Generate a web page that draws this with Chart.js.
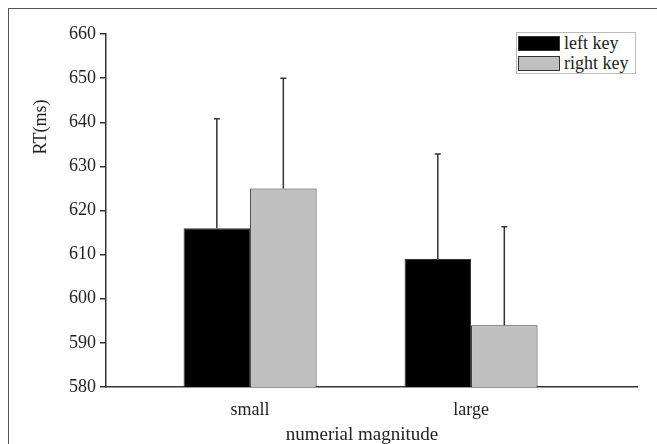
<!DOCTYPE html>
<html>
<head>
<meta charset="utf-8">
<script src="https://cdn.jsdelivr.net/npm/chart.js@4.4.1/dist/chart.umd.min.js"></script>
<style>
  body { margin: 0; background: #fff; }
  #wrap { position: relative; width: 657px; height: 444px; overflow: hidden; }
  #frame { position: absolute; left: 8px; top: 8px; width: 700px; height: 500px;
           border-left: 1.5px solid #555; border-top: 1.5px solid #555; pointer-events: none; }
  #legend { position: absolute; left: 516px; top: 32px; width: 118px; height: 40px; border: 1px solid #bbb;
            background: #fff; font-size: 18px; font-family: "Liberation Serif", "Times New Roman", Times, serif;
            color: #222; line-height: 20px; }
  #legend div { display: flex; align-items: center; height: 20px; padding-left: 1px; }
  #legend span.sw { display: inline-block; width: 40px; height: 13px; border: 1px solid #333; margin-right: 4px; }
</style>
</head>
<body>
<div id="wrap">
  <canvas id="chart" width="657" height="444"></canvas>
  <div id="frame"></div>
  <div id="legend"></div>
</div>
<script>
  // data
  var categories = ["small", "large"];
  var seriesNames = ["left key", "right key"];
  var leftKey = [616, 609];
  var rightKey = [625, 594];
  var leftErr = [24.8, 23.8];
  var rightErr = [25, 22.3];
  var yTicks = [580, 590, 600, 610, 620, 630, 640, 650, 660];

  var fills = ["#000000", "#c0c0c0"];
  var errs = [leftErr, rightErr];
  var serif = "'Liberation Serif', 'Times New Roman', Times, serif";

  function points(vals) {
      return vals.map(function(v, i) { return {x: i + 1, y: v}; });
  }

  // upward error bars with a small cap
  var errorBars = {
      id: "errorBars",
      afterDatasetsDraw: function(chart) {
          var ctx = chart.ctx;
          var y = chart.scales.y;
          ctx.save();
          ctx.strokeStyle = "#333";
          ctx.lineWidth = 1.5;
          chart.data.datasets.forEach(function(ds, di) {
              var meta = chart.getDatasetMeta(di);
              meta.data.forEach(function(bar, i) {
                  var top = y.getPixelForValue(ds.data[i].y + errs[di][i]);
                  ctx.beginPath();
                  ctx.moveTo(bar.x, bar.y);
                  ctx.lineTo(bar.x, top);
                  ctx.moveTo(bar.x - 3, top);
                  ctx.lineTo(bar.x + 3, top);
                  ctx.stroke();
              });
          });
          ctx.restore();
      }
  };

  // axis titles placed as in the figure
  var axisTitles = {
      id: "axisTitles",
      afterDraw: function(chart) {
          var ctx = chart.ctx;
          ctx.save();
          ctx.fillStyle = "#222";
          ctx.textAlign = "center";
          ctx.textBaseline = "middle";
          ctx.font = "19px " + serif;
          ctx.fillText("numerial magnitude", 362, 435);
          ctx.font = "18px " + serif;
          ctx.translate(41, 127);
          ctx.rotate(-Math.PI / 2);
          ctx.fillText("RT(ms)", 0, 0);
          ctx.restore();
      }
  };

  var datasets = seriesNames.map(function(name, k) {
      return {
          label: name,
          data: points(k == 0 ? leftKey : rightKey),
          backgroundColor: fills[k],
          borderColor: "#333",
          borderWidth: 1,
          categoryPercentage: 0.602,
          barPercentage: 1
      };
  });

  new Chart("chart", {
      type: "bar",
      data: { datasets: datasets },
      plugins: [errorBars, axisTitles],
      options: {
          responsive: false,
          animation: false,
          layout: { padding: { left: 0, top: 34, right: 20, bottom: 0 } },
          plugins: { legend: { display: false }, tooltip: { enabled: false } },
          scales: {
              x: {
                  type: "linear",
                  offset: false,
                  min: 0.348,
                  max: 2.751,
                  afterBuildTicks: function(s) { s.ticks = [{value: 1}, {value: 2}]; },
                  afterFit: function(s) { s.height = 57; },
                  grid: { display: false },
                  border: { display: true, color: "#333", width: 1.5 },
                  ticks: {
                      padding: 4,
                      color: "#222",
                      maxRotation: 0,
                      font: { family: serif, size: 18 },
                      callback: function(v) { return categories[v - 1]; }
                  }
              },
              y: {
                  min: 580,
                  max: 660,
                  afterBuildTicks: function(s) { s.ticks = yTicks.map(function(v) { return {value: v}; }); },
                  afterFit: function(s) { s.width = 106; },
                  grid: { drawOnChartArea: false, tickLength: 6, color: "#333", lineWidth: 1.5 },
                  border: { display: true, color: "#333", width: 1.5 },
                  ticks: {
                      padding: 4,
                      color: "#222",
                      font: { family: serif, size: 18 }
                  }
              }
          }
      }
  });

  // legend built from the series
  var lg = document.getElementById("legend");
  seriesNames.forEach(function(name, k) {
      var row = document.createElement("div");
      row.innerHTML = '<span class="sw" style="background:' + fills[k] + '"></span>' + name;
      lg.appendChild(row);
  });
</script>
</body>
</html>
